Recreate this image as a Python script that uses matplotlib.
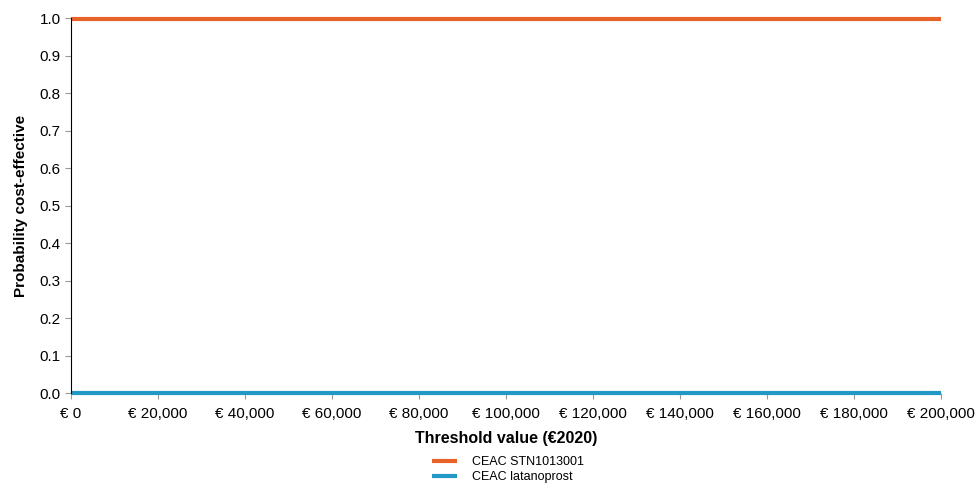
import numpy as np
from matplotlib import pyplot as plt
from matplotlib.ticker import FuncFormatter

plt.rcParams['font.family'] = ['Liberation Sans', 'DejaVu Sans']

# willingness-to-pay thresholds (euro) and probability cost-effective
threshold = [0, 10000, 20000, 30000, 40000, 50000, 60000, 70000, 80000, 90000, 100000,
             110000, 120000, 130000, 140000, 150000, 160000, 170000, 180000, 190000, 200000]
ceac_stn = [0.997, 0.997, 0.997, 0.997, 0.997, 0.997, 0.997, 0.997, 0.997, 0.997, 0.997,
            0.997, 0.997, 0.997, 0.997, 0.997, 0.997, 0.997, 0.997, 0.997, 0.997]
ceac_lat = [0.001, 0.001, 0.001, 0.001, 0.001, 0.001, 0.001, 0.001, 0.001, 0.001, 0.001,
            0.001, 0.001, 0.001, 0.001, 0.001, 0.001, 0.001, 0.001, 0.001, 0.001]

fig = plt.figure(figsize=(9.77, 4.83), dpi=100)
ax = fig.add_axes([0.0727, 0.1863, 0.8903, 0.7764])

ax.plot(threshold, ceac_stn, color='#E8622A', lw=3, label='CEAC STN1013001',
        solid_capstyle='butt', clip_on=False)
ax.plot(threshold, ceac_lat, color='#2299C4', lw=3, label='CEAC latanoprost',
        solid_capstyle='butt', clip_on=False)

ax.set_xlim(0, 200000)
ax.set_ylim(0, 1.0)
ax.set_xticks(np.arange(0, 200001, 20000))
ax.set_yticks(np.arange(0, 1.01, 0.1))
ax.xaxis.set_major_formatter(FuncFormatter(lambda v, p: '€ {:,.0f}'.format(v)))
ax.yaxis.set_major_formatter(FuncFormatter(lambda v, p: '{:.1f}'.format(v)))
ax.tick_params(axis='both', labelsize=11, color='#999999', length=4)
ax.tick_params(axis='x', pad=6)

for s in ['top', 'right', 'bottom']:
    ax.spines[s].set_visible(False)
ax.spines['left'].set_color('black')

ax.set_xlabel('Threshold value (€2020)', fontsize=11.5, fontweight='bold', labelpad=7)
ax.set_ylabel('Probability cost-effective', fontsize=11, fontweight='bold', labelpad=8)

fig.legend(loc='lower center', bbox_to_anchor=(0.52, -0.024), frameon=False, fontsize=9,
           handlelength=2.0, labelspacing=0.25, handletextpad=1.2)

fig.savefig('out.png', dpi=100)
